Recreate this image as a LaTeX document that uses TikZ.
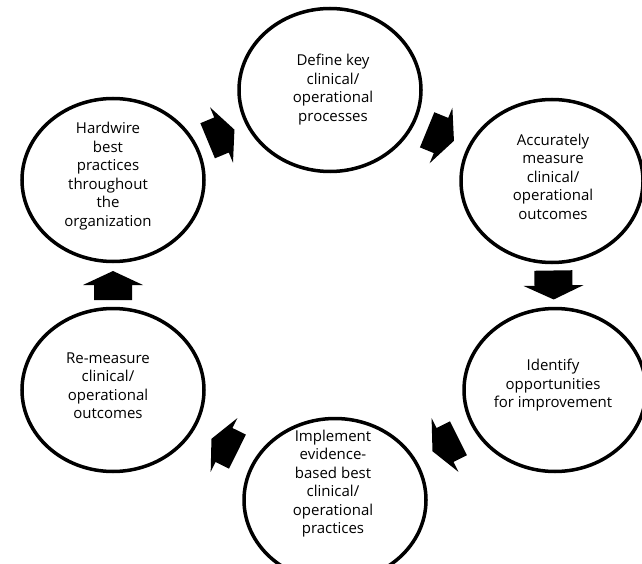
\documentclass[tikz,border=0pt]{standalone}
\usepackage{fontspec}
\setmainfont{Open Sans}
\usetikzlibrary{shapes.geometric,calc}
\begin{document}
\begin{tikzpicture}[x=1pt,y=-1pt,
  stage/.style={ellipse, draw=black, line width=3.5pt, minimum width=182pt, minimum height=163pt, inner sep=0pt},
  stagetext/.style={align=center, font=\fontsize{15}{18.5}\selectfont, inner sep=0pt},
  blockarrow/.pic={\fill[black] (-15,-19) -- (0,-19) -- (0,-30) -- (14,0) -- (0,30) -- (0,19) -- (-15,19) -- cycle;}
]
\useasboundingbox (0,0) rectangle (642,564);
\clip (0,0) rectangle (642,564);

% circles
\node[stage] (def) at (330,90) {};
\node[stage] (hw)  at (113,180) {};
\node[stage] (acc) at (552,181) {};
\node[stage] (idf) at (555,390) {};
\node[stage] (imp) at (335,500) {};
\node[stage] (rem) at (113,390) {};

% texts
\node[stagetext] (tdef) at (333,89.5) {Define key\\clinical/\\operational\\processes};
\node[stagetext] (thw)  at (108,176) {Hardwire\\best\\practices\\throughout\\the\\organization};
\node[stagetext] (tacc) at (553,176.5) {Accurately\\measure\\clinical/\\operational\\outcomes};
\node[stagetext] (tidf) at (553,385.5) {Identify\\opportunities\\for improvement};
\node[stagetext] (timp) at (333,483.5) {Implement\\evidence-\\based best\\clinical/\\operational\\practices};
\node[stagetext] (trem) at (108,385.5) {Re-measure\\clinical/\\operational\\outcomes};

% block arrows between stages
\foreach \a/\b in {hw/def, def/acc, acc/idf, idf/imp, imp/rem, rem/hw}{
  \path let \p1=($(\b.center)-(\a.center)$), \n1={atan2(\y1,\x1)} in
    ($(\a.center)!0.5!(\b.center)$) pic[rotate=\n1] {blockarrow};
}
\end{tikzpicture}
\end{document}
